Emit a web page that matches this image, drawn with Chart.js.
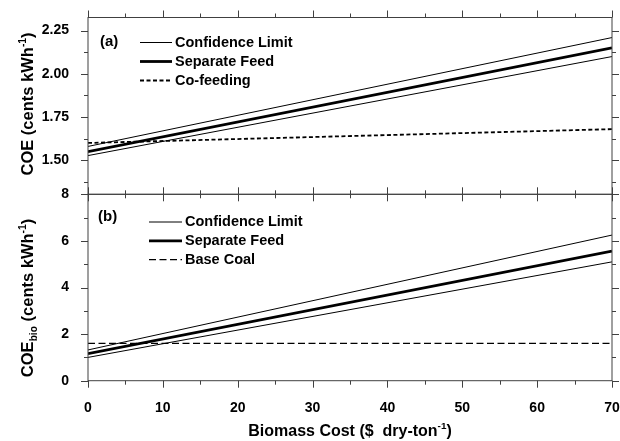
<!DOCTYPE html>
<html>
<head>
<meta charset="utf-8">
<script src="https://cdn.jsdelivr.net/npm/chart.js@4.4.0/dist/chart.umd.min.js"></script>
<style>
  body { margin: 0; background: #fff; }
  #wrap { position: relative; width: 620px; height: 441px; }
  #wrap canvas { position: absolute; left: 0; top: 0; }
</style>
</head>
<body>
<div id="wrap">
  <canvas id="coeChart" width="620" height="441"></canvas>
  <canvas id="bioChart" width="620" height="441"></canvas>
</div>
<script>
// biomass cost ($ per dry ton) at the two ends of each line
const biomassCost = [0, 70];

// panel (a) - COE, cents/kWh
const coeUpper = [1.58, 2.21];
const coeSeparate = [1.55, 2.15];
const coeLower = [1.527, 2.10];
const coeCofeed = [1.60, 1.68];

// panel (b) - COE bio, cents/kWh
const bioUpper = [1.32, 6.25];
const bioSeparate = [1.16, 5.56];
const bioLower = [1.0, 5.1];
const baseCoal = [1.6, 1.6];

// tick labels
const xTicks = [0, 10, 20, 30, 40, 50, 60, 70];
const coeTicks = [1.50, 1.75, 2.00, 2.25];
const bioTicks = [0, 2, 4, 6, 8];

const FONT = '"Liberation Sans", Arial, sans-serif';

function pts(ys) {
  return biomassCost.map((x, i) => ({ x: x, y: ys[i] }));
}

// major ticks plus the halfway minor ones inside the axis range
function tickMarks(scale) {
  const major = scale.ticks.map(t => t.value);
  const half = (major[1] - major[0]) / 2;
  const out = [];
  let v = major[0];
  while (v - half >= scale.min - 1e-9) v -= half;
  for (; v <= scale.max + 1e-9; v += half) {
    const isMajor = major.some(m => Math.abs(m - v) < 1e-6);
    out.push({ v: v, major: isMajor });
  }
  return out;
}

// text with sub/superscript pieces, centred on (cx, cy)
function drawRich(ctx, parts, cx, cy, size, rotate) {
  ctx.save();
  ctx.translate(cx, cy);
  if (rotate) ctx.rotate(-Math.PI / 2);
  let w = 0;
  parts.forEach(p => {
    ctx.font = 'bold ' + (p.s ? size * 0.62 : size) + 'px ' + FONT;
    p.w = ctx.measureText(p.t).width;
    w += p.w;
  });
  let x = -w / 2;
  ctx.fillStyle = '#000';
  ctx.textBaseline = 'alphabetic';
  ctx.textAlign = 'left';
  parts.forEach(p => {
    ctx.font = 'bold ' + (p.s ? size * 0.62 : size) + 'px ' + FONT;
    let dy = size * 0.36;
    if (p.s === 'sup') dy -= size * 0.42;
    if (p.s === 'sub') dy += size * 0.22;
    ctx.fillText(p.t, x, dy);
    x += p.w;
  });
  ctx.restore();
}

const framePlugin = {
  id: 'frame',
  afterDraw(chart, args, opts) {
    const ctx = chart.ctx;
    const a = chart.chartArea;
    const xs = chart.scales.x, ys = chart.scales.y;
    ctx.save();
    ctx.strokeStyle = '#404040';
    ctx.lineWidth = 1;
    ctx.strokeRect(a.left, a.top, a.right - a.left, a.bottom - a.top);
    ctx.beginPath();
    tickMarks(xs).forEach(t => {
      const px = Math.round(xs.getPixelForValue(t.v)) + 0.5;
      const len = t.major ? 7 : 4;
      ctx.moveTo(px, a.top); ctx.lineTo(px, a.top - len);
      ctx.moveTo(px, a.bottom); ctx.lineTo(px, a.bottom + len);
    });
    tickMarks(ys).forEach(t => {
      const py = Math.round(ys.getPixelForValue(t.v)) + 0.5;
      const len = t.major ? 7 : 4;
      ctx.moveTo(a.left, py); ctx.lineTo(a.left - len, py);
      ctx.moveTo(a.right, py); ctx.lineTo(a.right + len, py);
    });
    ctx.stroke();

    // legend inside the panel
    const lg = opts.legend;
    ctx.font = 'bold 14.5px ' + FONT;
    ctx.textBaseline = 'middle';
    ctx.fillStyle = '#000';
    lg.items.forEach((di, i) => {
      const ds = chart.data.datasets[di];
      const y = lg.y + i * lg.dy;
      ctx.beginPath();
      ctx.strokeStyle = '#000';
      ctx.lineWidth = ds.borderWidth;
      ctx.setLineDash(ds.borderDash || []);
      ctx.moveTo(lg.x, y);
      ctx.lineTo(lg.x + lg.len, y);
      ctx.stroke();
      ctx.setLineDash([]);
      ctx.fillText(ds.label, lg.x + lg.len + 3, y);
    });

    // panel letter
    ctx.font = 'bold 15px ' + FONT;
    ctx.fillText(opts.panel.text, opts.panel.x, opts.panel.y);

    // axis titles
    drawRich(ctx, opts.yTitle.parts, opts.yTitle.x, opts.yTitle.y, 16.5, true);
    if (opts.xTitle) drawRich(ctx, opts.xTitle.parts, opts.xTitle.x, opts.xTitle.y, 16, false);
    ctx.restore();
  }
};

function baseOptions(padding, yMin, yMax, yTicks, yFmt, showX) {
  return {
    responsive: false,
    animation: false,
    layout: { padding: padding },
    plugins: { legend: { display: false }, tooltip: { enabled: false } },
    elements: { point: { radius: 0 }, line: { tension: 0 } },
    scales: {
      x: {
        type: 'linear',
        min: 0,
        max: 70,
        display: showX,
        grid: { display: false },
        border: { display: false },
        afterBuildTicks: s => { s.ticks = xTicks.map(v => ({ value: v })); },
        afterFit: s => {
          s.height = showX ? 60.3 : 0;
          s.paddingLeft = 0;
          s.paddingRight = 0;
        },
        ticks: { color: '#000', padding: 11, font: { family: FONT, size: 14, weight: 'bold' } }
      },
      y: {
        min: yMin,
        max: yMax,
        grid: { display: false },
        border: { display: false },
        afterBuildTicks: s => { s.ticks = yTicks.map(v => ({ value: v })); },
        afterFit: s => { s.width = 88; s.paddingTop = 0; s.paddingBottom = 0; },
        ticks: { color: '#000', padding: 11, font: { family: FONT, size: 14, weight: 'bold' }, callback: yFmt }
      }
    }
  };
}

// Panel (a)
const coeOpts = baseOptions({ left: 0, right: 8, top: 17.5, bottom: 246.7 }, 1.303, 2.326, coeTicks, v => v.toFixed(2), false);
coeOpts.plugins.frame = {
  legend: { x: 140, y: 42.5, dy: 19, len: 32, items: [0, 1, 3] },
  panel: { text: '(a)', x: 100, y: 42 },
  yTitle: { x: 27, y: 104, parts: [{ t: 'COE (cents kWh' }, { t: '-1', s: 'sup' }, { t: ')' }] }
};
new Chart(document.getElementById('coeChart'), {
  type: 'line',
  data: {
    datasets: [
      { label: 'Confidence Limit', data: pts(coeUpper), borderColor: '#000', borderWidth: 1 },
      { label: 'Separate Feed', data: pts(coeSeparate), borderColor: '#000', borderWidth: 2.8 },
      { label: 'Confidence Limit', data: pts(coeLower), borderColor: '#000', borderWidth: 1 },
      { label: 'Co-feeding', data: pts(coeCofeed), borderColor: '#000', borderWidth: 1.8, borderDash: [4, 2.5] }
    ]
  },
  options: coeOpts,
  plugins: [framePlugin]
});

// Panel (b)
const bioOpts = baseOptions({ left: 0, right: 8, top: 194.3, bottom: 0 }, 0, 8, bioTicks, v => String(v), true);
bioOpts.plugins.frame = {
  legend: { x: 149, y: 222, dy: 18.8, len: 33, items: [0, 1, 3] },
  panel: { text: '(b)', x: 98, y: 217 },
  yTitle: { x: 27, y: 298, parts: [{ t: 'COE' }, { t: 'bio', s: 'sub' }, { t: ' (cents kWh' }, { t: '-1', s: 'sup' }, { t: ')' }] },
  xTitle: { x: 350, y: 430, parts: [{ t: 'Biomass Cost ($  dry-ton' }, { t: '-1', s: 'sup' }, { t: ')' }] }
};
new Chart(document.getElementById('bioChart'), {
  type: 'line',
  data: {
    datasets: [
      { label: 'Confidence Limit', data: pts(bioUpper), borderColor: '#000', borderWidth: 1 },
      { label: 'Separate Feed', data: pts(bioSeparate), borderColor: '#000', borderWidth: 2.8 },
      { label: 'Confidence Limit', data: pts(bioLower), borderColor: '#000', borderWidth: 1 },
      { label: 'Base Coal', data: pts(baseCoal), borderColor: '#000', borderWidth: 1.4, borderDash: [7, 3.5] }
    ]
  },
  options: bioOpts,
  plugins: [framePlugin]
});
</script>
</body>
</html>
